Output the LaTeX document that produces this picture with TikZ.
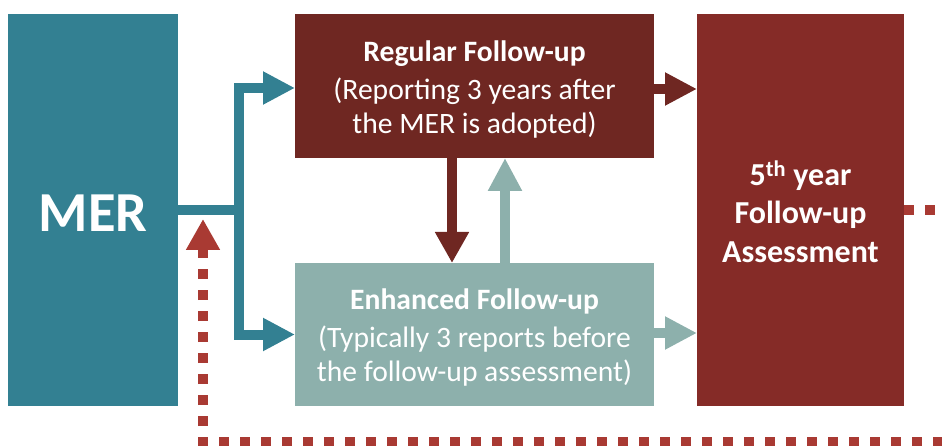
\documentclass[tikz,border=0pt]{standalone}
\usepackage{fontspec}
\setmainfont{Carlito}
\usetikzlibrary{arrows.meta,calc}
\definecolor{merteal}{RGB}{51,128,146}
\definecolor{regred}{RGB}{111,39,34}
\definecolor{enhgreen}{RGB}{141,176,172}
\definecolor{fifthred}{RGB}{133,43,39}
\definecolor{dotred}{RGB}{169,58,51}
\begin{document}
\begin{tikzpicture}[x=1pt,y=-1pt,
  box/.style={draw=none, inner sep=0pt, outer sep=0pt},
  txt/.style={inner sep=0pt, outer sep=0pt, text=white, align=center, font=\fontsize{29.6}{34}\selectfont},
  conn/.style={line width=10pt, -{Triangle[length=32pt,width=31pt]}},
  dots/.style={draw=dotred, line width=10pt, dash pattern=on 10pt off 11pt}]
\useasboundingbox (0,0) rectangle (942,446);
% boxes
\node[box, fill=merteal, minimum width=170, minimum height=392] (mer) at (93,210) {};
\node[box, fill=regred, minimum width=359, minimum height=144] (reg) at (474.5,86) {};
\node[box, fill=enhgreen, minimum width=359, minimum height=143] (enh) at (474.5,334.5) {};
\node[box, fill=fifthred, minimum width=207, minimum height=392] (fifth) at (800.5,210) {};
% texts
\node[txt, font=\bfseries\fontsize{56.5}{60}\selectfont] (mertxt) at ($(mer)+(0,3)$) {MER};
\node[txt] (regtxt) at ($(reg)+(0,4)$) {\textbf{Regular Follow-up}\\[4pt](Reporting 3 years after\\the MER is adopted)};
\node[txt] (enhtxt) at ($(enh)+(0,3)$) {\textbf{Enhanced Follow-up}\\[4pt](Typically 3 reports before\\the follow-up assessment)};
\node[txt, font=\bfseries\fontsize{32}{38.5}\selectfont] (fifthtxt) at ($(fifth)+(0,1.5)$) {5\textsuperscript{th} year\\Follow-up\\Assessment};
% teal connectors from MER
\coordinate (j) at (238.5,210);
\draw[merteal, line width=10pt] (mer.east) -- (j);
\draw[conn, merteal] (j) |- ($(reg.west)+(0,2)$);
\draw[conn, merteal] (j) |- (enh.west);
% connectors between follow-up boxes
\draw[conn, regred, -{Triangle[length=31pt,width=32pt]}] ($(reg.south)+(-22.5,0)$) -- ($(enh.north)+(-22.5,0)$);
\draw[conn, enhgreen, -{Triangle[length=33pt,width=32pt]}] ($(enh.north)+(30.5,0)$) -- ($(reg.south)+(30.5,0)$);
% connectors into 5th year assessment
\draw[conn, regred] ($(reg.east)+(0,3)$) -- ($(reg.east -| fifth.west)+(0,3)$);
\draw[conn, enhgreen] ($(enh.east)+(0,-1.5)$) -- ($(enh.east -| fifth.west)+(0,-1.5)$);
% dotted feedback loop
\coordinate (outR) at (942,210);
\coordinate (outB) at (942,442);
\coordinate (corner) at (203,442);
\coordinate (back) at (203,219);
\draw[dots] (fifth.east) -- (outR);
\draw[dots, dash phase=5pt] (corner) -- (outB);
\draw[dots, -{Triangle[length=31pt,width=32pt]}] ($(corner)+(0,5)$) -- (back);
\end{tikzpicture}
\end{document}
